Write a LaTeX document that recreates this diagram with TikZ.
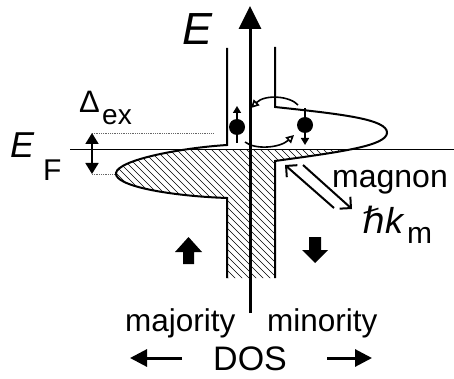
\documentclass[tikz,border=0pt]{standalone}
\usepackage{fontspec}
\setmainfont{Liberation Sans}
\newfontfamily\dvs{DejaVu Sans}
\usetikzlibrary{arrows.meta}
\begin{document}
\begin{tikzpicture}[x=1pt,y=-1pt,
  dos/.style={line width=2pt, line join=miter},
  axis/.style={line width=3pt, -{Triangle[length=23pt,width=22pt]}},
  hatch/.style={line width=0.6pt},
  lbl/.style={inner sep=0pt, anchor=base west},
  spin/.style={line width=1.6pt, -{Triangle[length=7pt,width=8pt]}},
  hop/.style={line width=1.6pt, -{Triangle[open,length=8pt,width=8pt]}},
  mag/.style={line width=2pt, -{Straight Barb[length=8pt,width=16pt]}},
  dotl/.style={densely dotted, line width=0.8pt, black!60},
  fsz/.style={font=\fontsize{#1}{#1}\selectfont},
  fszi/.style={font=\fontsize{#1}{#1}\selectfont\itshape},
]
\useasboundingbox (0,0) rectangle (454,379);
% DOS key points
\coordinate (LT) at (227,48);
\coordinate (LA) at (227,145);
\coordinate (LTip) at (116,173);
\coordinate (LB) at (227,198);
\coordinate (LBot) at (227,278);
\coordinate (RT) at (275,47);
\coordinate (RA) at (275,107);
\coordinate (RTip) at (387,133);
\coordinate (RB) at (275,161);
\coordinate (RBot) at (275,278);
% hatching
\begin{scope}
  \clip (0,150) rectangle (454,300);
  \clip (250,40) -- (LT) -- (LA) .. controls (180,148) and (118,160) .. (LTip)
        .. controls (114,186) and (170,196) .. (LB) -- (LBot) -- (250,278) -- cycle
        (250,40) -- (RT) -- (RA) .. controls (340,114) and (388,119) .. (RTip)
        .. controls (386,146) and (340,152) .. (RB) -- (RBot) -- (250,278) -- cycle;
  \foreach \i in {-300,-293,...,500} \draw[hatch] (\i,100) -- ++(250,250);
\end{scope}
% DOS outlines
\draw[dos] (LT) -- (LA) .. controls (180,148) and (118,160) .. (LTip)
        .. controls (114,186) and (170,196) .. (LB) -- (LBot);
\draw[dos] (RT) -- (RA) .. controls (340,114) and (388,119) .. (RTip)
        .. controls (386,146) and (340,152) .. (RB) -- (RBot);
% Fermi level
\coordinate (EFl) at (70,150);
\coordinate (EFr) at (454,150);
\draw[line width=1pt] (EFl) -- (EFr);
% energy axis
\coordinate (A0) at (250,313);
\coordinate (A1) at (250,6);
\draw[axis] (A0) -- (A1);
% exchange splitting
\coordinate (D1) at (92,133);
\coordinate (D2) at (92,174);
\draw[dotl] (D1) -- (213,133);
\draw[dotl] (D2) -- (115,174);
\draw[line width=1.8pt, {Triangle[length=11pt,width=13pt]}-{Triangle[length=11pt,width=13pt]}] (D1) -- (D2);
% electrons
\fill (237,127) circle (8);
\coordinate (u0) at (237,143); \coordinate (u1) at (237,106);
\draw[spin] (u0) -- (u1);
\fill (305,125) circle (8);
\coordinate (d0) at (305,108); \coordinate (d1) at (305,145);
\draw[spin] (d0) -- (d1);
% spin-flip hops
\coordinate (h0) at (245,142); \coordinate (h1) at (294,135);
\draw[hop] (h0) .. controls (255,150) and (280,148) .. (h1);
\coordinate (g0) at (298,105); \coordinate (g1) at (251,108);
\draw[hop] (g0) .. controls (290,96) and (265,94) .. (g1);
% magnon arrows
\coordinate (m1a) at (334,208); \coordinate (m1b) at (285,165);
\coordinate (m2a) at (303,165); \coordinate (m2b) at (352,209);
\draw[mag] (m1a) -- (m1b);
\draw[mag] (m2a) -- (m2b);
% block arrows
\fill (188.5,237) -- (202,252) -- (194,252) -- (194,264) -- (183,264) -- (183,252) -- (175,252) -- cycle;
\fill (315,263) -- (328,250) -- (321,250) -- (321,237) -- (309,237) -- (309,250) -- (302,250) -- cycle;
% DOS arrows
\coordinate (la0) at (182,358); \coordinate (la1) at (130,358);
\coordinate (ra0) at (327,358); \coordinate (ra1) at (372,358);
\draw[line width=3pt, -{Triangle[length=17pt,width=17pt]}] (la0) -- (la1);
\draw[line width=3pt, -{Triangle[length=17pt,width=17pt]}] (ra0) -- (ra1);
% labels
\node[lbl, fszi=45] (E) at (182,45) {E};
\node[lbl, fszi=36] (EFE) at (10,158) {E};
\node[lbl, fsz=30] (EFF) at (43,180) {F};
\node[lbl, fsz=31] (Dl) at (79,113) {Δ};
\node[lbl, fsz=28] (Dex) at (102,125) {ex};
\node[lbl, fsz=32] (mag) at (332,187) {magnon};
\node[lbl, fszi=36] (hb) at (362,233) {\dvs ℏ};
\node[lbl, fszi=36] (kk) at (385,233) {k};
\node[lbl, fsz=30] (km) at (407,243) {m};
\node[lbl, fsz=31.5] (maj) at (125,331) {majority};
\node[lbl, fsz=31.5] (min) at (267,331) {minority};
\node[lbl, fsz=34] (DOS) at (213,370) {DOS};
\end{tikzpicture}
\end{document}
